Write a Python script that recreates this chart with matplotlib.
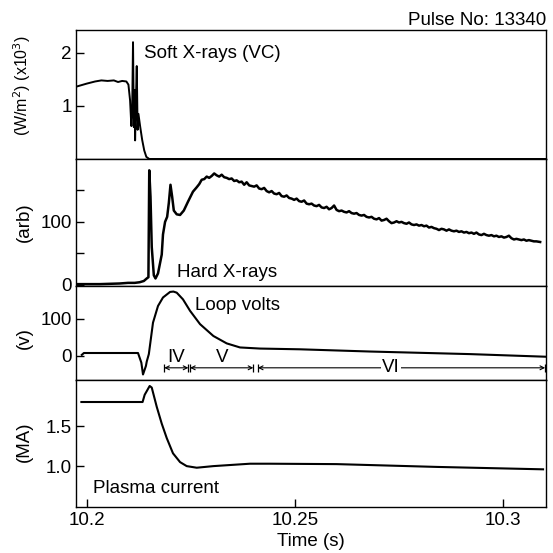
import matplotlib.pyplot as plt

plt.rcParams['font.family'] = ['Liberation Sans', 'DejaVu Sans']
plt.rcParams['font.size'] = 13.5

# soft X-rays (VC), units of 10^3 W/m^2
sxr_t = [10.1978, 10.2000, 10.2020, 10.2035, 10.2050, 10.2065, 10.2075, 10.2085,
         10.2095, 10.2100, 10.2104, 10.2107, 10.2109, 10.2111, 10.2113, 10.2115,
         10.2116, 10.2118, 10.2120, 10.2122, 10.2124, 10.2128, 10.2133, 10.2138,
         10.2143, 10.2150, 10.3103]
sxr_v = [1.37, 1.42, 1.46, 1.48, 1.47, 1.48, 1.45, 1.47,
         1.46, 1.40, 1.10, 0.62, 0.90, 2.20, 0.60, 1.30,
         0.35, 1.10, 1.75, 0.55, 0.85, 0.62, 0.36, 0.16,
         0.04, 0.0, 0.0]

# hard X-rays (arb)
hxr_t = [10.1974, 10.2031, 10.2079, 10.2099, 10.2115, 10.2127, 10.2137, 10.2144,
         10.2148, 10.2150, 10.2153, 10.2156, 10.2161, 10.2165, 10.2171, 10.2180,
         10.2183, 10.2188, 10.2193, 10.2197, 10.2201, 10.2205, 10.2209, 10.2216,
         10.2224, 10.2233, 10.2243, 10.2255, 10.2264, 10.2270,
         10.2276, 10.2282, 10.2288, 10.2294, 10.2300, 10.2306, 10.2312, 10.2318,
         10.2324, 10.2330, 10.2336, 10.2342, 10.2348, 10.2354, 10.2360, 10.2366,
         10.2372, 10.2378, 10.2384, 10.2390, 10.2396, 10.2402, 10.2408, 10.2414,
         10.2420, 10.2426, 10.2432, 10.2438, 10.2444, 10.2450, 10.2456, 10.2462,
         10.2468, 10.2474, 10.2480, 10.2486, 10.2492, 10.2498, 10.2504, 10.2510,
         10.2516, 10.2522, 10.2528, 10.2534, 10.2540, 10.2546, 10.2552, 10.2558,
         10.2564, 10.2570, 10.2576, 10.2582, 10.2588, 10.2594, 10.2600, 10.2606,
         10.2612, 10.2618, 10.2624, 10.2630, 10.2636, 10.2642, 10.2648, 10.2654,
         10.2660, 10.2666, 10.2672, 10.2678, 10.2684, 10.2690, 10.2696, 10.2702,
         10.2708, 10.2714, 10.2720, 10.2726, 10.2732, 10.2738, 10.2744, 10.2750,
         10.2756, 10.2762, 10.2768, 10.2774, 10.2780, 10.2786, 10.2792, 10.2798,
         10.2804, 10.2810, 10.2816, 10.2822, 10.2828, 10.2834, 10.2840, 10.2846,
         10.2852, 10.2858, 10.2864, 10.2870, 10.2876, 10.2882, 10.2888, 10.2894,
         10.2900, 10.2906, 10.2912, 10.2918, 10.2924, 10.2930, 10.2936, 10.2942,
         10.2948, 10.2954, 10.2960, 10.2966, 10.2972, 10.2978, 10.2984, 10.2990,
         10.2996, 10.3002, 10.3008, 10.3014, 10.3020, 10.3026, 10.3032, 10.3038,
         10.3044, 10.3050, 10.3056, 10.3062, 10.3068, 10.3074, 10.3080, 10.3089]
hxr_v = [1, 1, 2, 3, 3, 4, 6, 10,
         12, 182, 140, 60, 15, 10, 18, 48,
         80, 100, 108, 130, 159, 140, 118, 112,
         111, 118, 132, 148, 155, 160,
         167, 168, 172, 170, 173, 177, 174, 172,
         175, 171, 170, 168, 169, 165, 166, 163,
         164, 159, 163, 158, 157, 156, 158, 153,
         152, 154, 149, 147, 149, 145, 144, 146,
         141, 140, 142, 138, 137, 135, 137, 133,
         132, 134, 129, 128, 129, 126, 125, 127,
         123, 122, 124, 120, 122, 126, 119, 117,
         118, 116, 115, 117, 114, 113, 114, 111,
         110, 111, 108, 107, 108, 105, 104, 106,
         102, 103, 105, 101, 98, 99, 101, 99,
         100, 98, 97, 99, 96, 95, 96, 94,
         95, 93, 94, 91, 92, 90, 89, 87,
         89, 88, 86, 88, 86, 85, 86, 84,
         85, 83, 84, 82, 83, 81, 83, 80,
         79, 81, 79, 78, 79, 77, 78, 76,
         77, 75, 76, 78, 74, 72, 73, 72,
         71, 72, 70, 71, 70, 69, 69, 68]

# loop volts (V)
lv_t = [10.1988, 10.1993, 10.2123, 10.2131, 10.2135, 10.2142, 10.2144, 10.2149,
        10.2159, 10.2171, 10.2183, 10.2200, 10.2208, 10.2216, 10.2231, 10.2248,
        10.2272, 10.2304, 10.2336, 10.2368, 10.2416, 10.2512, 10.2680, 10.2921,
        10.3101]
lv_v = [3, 8, 8, -18, -50, -27, -15, 5,
        90, 135, 158, 173, 174, 171, 153, 122,
        86, 54, 34, 23, 20, 18, 12, 5,
        -2]

# plasma current (MA)
ip_t = [10.1987, 10.2134, 10.2139, 10.2151, 10.2156, 10.2168, 10.2180, 10.2192,
        10.2207, 10.2224, 10.2240, 10.2264, 10.2304, 10.2392, 10.2440, 10.2600,
        10.2841, 10.3096]
ip_v = [1.80, 1.80, 1.89, 2.00, 1.98, 1.74, 1.53, 1.35,
        1.16, 1.05, 1.00, 0.98, 1.00, 1.03, 1.03, 1.025,
        0.99, 0.96]

# disruption phases marked on the loop-volts panel
phase_names = ['IV', 'V', 'VI']
phase_start = [10.2186, 10.2248, 10.2411]
phase_end = [10.2244, 10.2400, 10.3101]

xlim = (10.1974, 10.3103)

fig = plt.figure(figsize=(5.53, 5.53), dpi=100)
left, width = 0.1374, 0.8499
ax1 = fig.add_axes([left, 0.7125, width, 0.2333])
ax2 = fig.add_axes([left, 0.4828, width, 0.2297], sharex=ax1)
ax3 = fig.add_axes([left, 0.3128, width, 0.1700], sharex=ax1)
ax4 = fig.add_axes([left, 0.0832, width, 0.2297], sharex=ax1)

ax1.plot(sxr_t, sxr_v, color='black', lw=1.4)
ax2.plot(hxr_t, hxr_v, color='black', lw=1.8)
ax3.plot(lv_t, lv_v, color='black', lw=1.5)
ax4.plot(ip_t, ip_v, color='black', lw=1.5)

ax1.set_xlim(*xlim)
ax1.set_ylim(0, 2.43)
ax1.set_yticks([1, 2])
ax1.set_yticklabels(['1', '2'])

ax2.set_ylim(-2, 200)
ax2.set_yticks([0, 50, 100, 150])
ax2.set_yticklabels(['0', '', '100', ''])

ax3.set_ylim(-65, 189)
ax3.set_yticks([0, 100])

ax4.set_ylim(0.49, 2.075)
ax4.set_yticks([1.0, 1.5])
ax4.set_yticklabels(['1.0', '1.5'])
ax4.set_xticks([10.2, 10.25, 10.3])
ax4.set_xticklabels(['10.2', '10.25', '10.3'])
ax4.set_xlabel('Time (s)', labelpad=3)

for ax in (ax1, ax2, ax3, ax4):
    ax.tick_params(axis='y', direction='in', length=6, width=1, pad=3)
    ax.tick_params(axis='x', direction='in', length=6, width=1)
    for s in ax.spines.values():
        s.set_linewidth(1.0)
for ax in (ax1, ax2, ax3):
    ax.tick_params(axis='x', bottom=False, labelbottom=False)

ax1.set_ylabel('(W/m$^2$) (x10$^3$)', fontsize=11.5)
ax2.set_ylabel('(arb)')
ax3.set_ylabel('(v)')
ax4.set_ylabel('(MA)')
ax1.yaxis.set_label_coords(-0.092, 0.57)
ax2.yaxis.set_label_coords(-0.092, 0.5)
ax3.yaxis.set_label_coords(-0.092, 0.45)
ax4.yaxis.set_label_coords(-0.092, 0.51)

ax1.text(10.2137, 1.98, 'Soft X-rays (VC)', va='center', ha='left')
ax2.text(10.2216, 19, 'Hard X-rays', va='center', ha='left')
ax3.text(10.2260, 135, 'Loop volts', va='center', ha='left')
ax4.text(10.2014, 0.72, 'Plasma current', va='center', ha='left')
fig.text(0.987, 0.963, 'Pulse No: 13340', ha='right', va='center')

# phase arrows
y_arrow = -32
for name, a, b in zip(phase_names, phase_start, phase_end):
    ax3.annotate('', xy=(b, y_arrow), xytext=(a, y_arrow),
                 arrowprops=dict(arrowstyle='<->', lw=0.8, color='black',
                                 shrinkA=0, shrinkB=0, mutation_scale=7))
    ax3.plot([a, b], [y_arrow, y_arrow], ls='none', marker='|', ms=6,
             mew=0.9, color='black')
    mid = (a + b) / 2
    if name == 'VI':
        ax3.text(10.2730, y_arrow, name, ha='center', va='center',
                 bbox=dict(facecolor='white', edgecolor='none', pad=1))
    else:
        ax3.text(mid, y_arrow + 5, name, ha='center', va='bottom')

fig.savefig('out.png', dpi=100)
